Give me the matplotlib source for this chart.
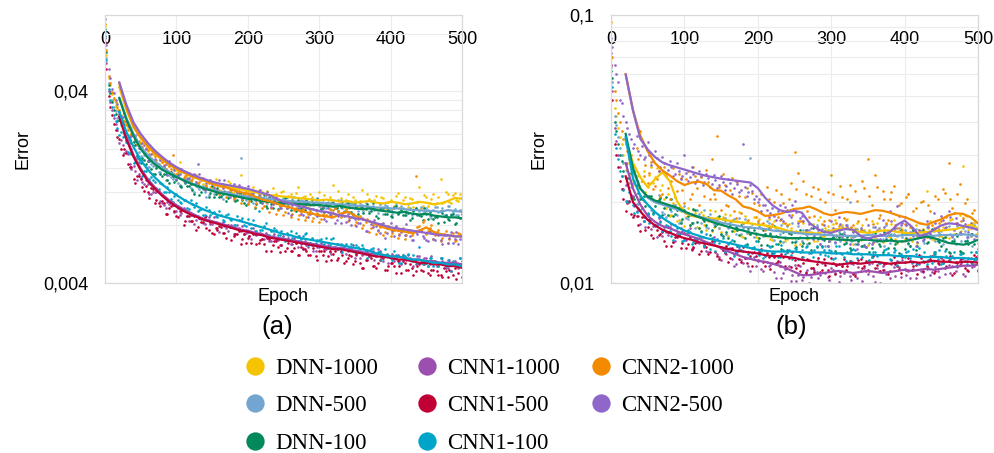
import matplotlib
matplotlib.use("Agg")
import matplotlib.pyplot as plt
from matplotlib.lines import Line2D
from matplotlib.ticker import FixedLocator, FixedFormatter, NullFormatter
import numpy as np

plt.rcParams["font.family"] = ["Liberation Sans", "DejaVu Sans"]

# values are stored in units of 1e-4 (error)
SCALE = 1e-4
DOT_EPOCHS = list(range(0, 501, 5))
DOT_EPOCHS2 = list(range(2, 500, 5))
LINE_EPOCHS = list(range(20, 501, 10))

SERIES = ["DNN-1000", "DNN-500", "DNN-100", "CNN1-1000", "CNN1-500", "CNN1-100", "CNN2-1000", "CNN2-500"]
COLORS = ["#F5C400", "#72A6D0", "#00895A", "#9C4FAF", "#C00035", "#00A4C8", "#F38A00", "#8F66CA"]

# ---------------- panel (a) ----------------
a_dnn1000_line = [420, 320, 260, 228, 205, 188, 176, 166, 158, 151,
                  145, 140, 136, 132, 129, 127, 125, 123, 121, 119,
                  117, 115, 114, 113, 112, 111, 110, 109, 108, 109,
                  108, 106, 107, 105, 106, 107, 105, 104, 106, 105,
                  103, 104, 106, 105, 103, 104, 107, 111, 110]
a_dnn1000_dots = [880, 470, 385, 340, 305, 282, 268, 238, 236, 210,
                  212, 190, 195, 176, 183, 166, 172, 158, 163, 150,
                  156, 171, 141, 147, 136, 143, 131, 139, 128, 135,
                  124, 140, 122, 131, 119, 133, 119, 127, 146, 116,
                  124, 113, 111, 122, 120, 109, 108, 125, 117, 107,
                  121, 104, 116, 105, 126, 103, 114, 102, 113, 104,
                  119, 101, 103, 112, 130, 102, 111, 100, 117, 104,
                  109, 99, 122, 101, 110, 98, 114, 103, 111, 97,
                  109, 101, 118, 98, 112, 100, 110, 98, 127, 101,
                  113, 104, 117, 105, 139, 106, 116, 105, 118, 107,
                  113]
a_dnn1000_dots2 = [620, 430, 360, 322, 300, 268, 258, 236, 222, 218,
                   198, 200, 184, 188, 170, 175, 160, 168, 152, 160,
                   148, 152, 144, 141, 145, 134, 140, 131, 137, 126,
                   133, 124, 130, 121, 136, 119, 128, 117, 125, 115,
                   120, 126, 112, 118, 110, 121, 109, 115, 107, 119,
                   106, 114, 104, 118, 103, 112, 100, 116, 102, 110,
                   100, 115, 103, 109, 99, 121, 101, 108, 98, 113,
                   100, 107, 97, 116, 100, 108, 98, 112, 99, 106,
                   97, 114, 99, 108, 97, 111, 100, 106, 98, 115,
                   101, 110, 103, 113, 104, 120, 106, 115, 108, 116]
a_dnn500_line = [370, 290, 240, 205, 186, 172, 161, 152, 144, 138,
                 133, 129, 125, 122, 120, 118, 116, 114, 113, 112,
                 111, 110, 109, 108, 107, 106, 106, 105, 105, 104,
                 103, 103, 102, 101, 101, 100, 99, 99, 98, 98,
                 97, 96, 96, 95, 95, 94, 96, 95, 94]
a_dnn500_dots = [820, 440, 360, 315, 295, 278, 232, 222, 220, 186,
                 183, 185, 161, 167, 170, 152, 158, 137, 146, 140,
                 145, 130, 136, 141, 125, 120, 126, 127, 120, 115,
                 128, 116, 120, 110, 120, 116, 109, 119, 180, 115,
                 104, 116, 109, 114, 105, 117, 109, 105, 110, 101,
                 111, 107, 103, 113, 102, 108, 104, 98, 110, 106,
                 101, 109, 98, 103, 106, 100, 109, 95, 102, 105,
                 99, 95, 102, 105, 95, 101, 98, 103, 92, 101,
                 96, 98, 93, 101, 94, 103, 91, 97, 95, 92,
                 99, 89, 96, 100, 95, 91, 101, 92, 97, 91,
                 96]
a_dnn500_dots2 = [600, 400, 330, 290, 266, 258, 229, 199, 210, 193,
                  176, 185, 161, 163, 163, 151, 161, 138, 143, 143,
                  133, 128, 135, 138, 123, 128, 123, 128, 113, 124,
                  117, 119, 112, 121, 112, 122, 108, 115, 112, 108,
                  115, 105, 113, 115, 108, 105, 115, 106, 110, 104,
                  109, 102, 113, 105, 99, 107, 110, 102, 104, 111,
                  98, 101, 106, 96, 103, 108, 99, 105, 94, 103,
                  99, 105, 95, 101, 107, 96, 93, 99, 102, 96,
                  92, 103, 94, 98, 90, 99, 96, 91, 100, 94,
                  96, 87, 100, 94, 98, 90, 101, 94, 91, 96]
a_dnn100_line = [368, 285, 234, 200, 180, 166, 156, 149, 143, 137,
                 132, 128, 124, 121, 118, 116, 114, 112, 110, 109,
                 107, 106, 105, 104, 104, 103, 103, 102, 102, 101,
                 100, 101, 99, 98, 97, 98, 96, 95, 94, 93,
                 94, 92, 91, 92, 90, 89, 88, 88, 87]
a_dnn100_dots = [850, 430, 350, 305, 283, 274, 223, 223, 218, 183,
                 169, 175, 173, 158, 148, 163, 145, 149, 133, 145,
                 138, 128, 140, 129, 131, 116, 131, 120, 125, 113,
                 128, 117, 112, 117, 107, 118, 113, 108, 118, 104,
                 112, 107, 99, 112, 108, 101, 112, 98, 104, 108,
                 102, 113, 96, 104, 108, 99, 96, 105, 109, 96,
                 103, 99, 105, 93, 105, 98, 100, 94, 104, 94,
                 105, 92, 100, 97, 93, 104, 89, 97, 99, 92,
                 89, 100, 92, 96, 90, 93, 87, 98, 91, 85,
                 92, 94, 86, 88, 95, 83, 86, 90, 81, 88,
                 92]
a_dnn100_dots2 = [640, 390, 320, 280, 287, 243, 215, 216, 210, 177,
                  180, 168, 173, 148, 160, 148, 149, 138, 151, 135,
                  147, 126, 133, 129, 122, 131, 115, 125, 126, 118,
                  113, 125, 114, 119, 111, 116, 107, 119, 109, 102,
                  110, 114, 103, 106, 115, 99, 103, 108, 97, 105,
                  111, 100, 108, 95, 105, 101, 108, 97, 104, 110,
                  97, 94, 101, 105, 98, 95, 106, 95, 100, 90,
                  100, 98, 93, 103, 95, 98, 87, 99, 92, 96,
                  88, 101, 94, 90, 94, 85, 95, 92, 89, 98,
                  86, 91, 88, 82, 93, 90, 85, 92, 82, 87]
a_cnn1_1000_line = [300, 230, 186, 158, 139, 126, 116, 108, 102, 97,
                    93, 89, 86, 84, 82, 80, 78, 76, 75, 73,
                    72, 70, 69, 68, 67, 66, 65, 64, 63, 62,
                    61, 61, 60, 59, 58, 57, 57, 56, 55, 55,
                    54, 53, 53, 52, 52, 51, 51, 51, 50]
a_cnn1_1000_dots = [760, 400, 320, 270, 215, 210, 196, 168, 164, 137,
                    141, 131, 132, 116, 119, 121, 105, 99, 103, 103,
                    95, 90, 99, 89, 90, 81, 89, 86, 81, 88,
                    81, 83, 74, 83, 77, 79, 72, 80, 75, 72,
                    74, 68, 75, 72, 68, 73, 66, 70, 67, 63,
                    70, 67, 64, 69, 62, 64, 66, 62, 68, 59,
                    62, 63, 60, 58, 62, 64, 58, 60, 59, 61,
                    54, 59, 56, 57, 55, 59, 55, 59, 52, 56,
                    55, 52, 56, 50, 54, 56, 53, 50, 55, 51,
                    54, 50, 52, 49, 54, 51, 48, 51, 52, 48,
                    50]
a_cnn1_1000_dots2 = [560, 350, 290, 250, 222, 191, 189, 157, 153, 149,
                     134, 138, 117, 120, 119, 107, 102, 106, 107, 94,
                     98, 93, 96, 84, 91, 85, 87, 82, 89, 81,
                     88, 77, 81, 79, 75, 80, 72, 77, 79, 73,
                     70, 77, 71, 73, 68, 71, 66, 72, 67, 63,
                     68, 69, 64, 65, 70, 61, 63, 65, 59, 62,
                     65, 60, 63, 57, 62, 60, 63, 57, 60, 63,
                     56, 54, 57, 59, 56, 53, 60, 54, 56, 51,
                     57, 54, 52, 56, 53, 54, 49, 55, 51, 54,
                     49, 55, 51, 49, 52, 48, 53, 51, 49, 54]
a_cnn1_500_line = [294, 225, 182, 155, 136, 124, 114, 106, 100, 95,
                   91, 88, 85, 83, 81, 79, 77, 75, 74, 72,
                   71, 69, 68, 67, 66, 65, 64, 63, 62, 61,
                   60, 60, 59, 58, 57, 56, 55, 55, 54, 53,
                   53, 52, 51, 51, 50, 50, 49, 49, 48]
a_cnn1_500_dots = [720, 380, 300, 250, 225, 186, 191, 161, 140, 144,
                   140, 121, 120, 125, 104, 105, 107, 92, 98, 102,
                   89, 95, 80, 89, 84, 89, 78, 83, 88, 76,
                   73, 77, 79, 73, 69, 78, 70, 72, 64, 72,
                   69, 65, 72, 65, 68, 59, 68, 63, 66, 58,
                   68, 61, 59, 61, 56, 62, 60, 56, 63, 55,
                   59, 56, 52, 59, 57, 53, 59, 51, 54, 55,
                   52, 58, 48, 53, 55, 49, 48, 53, 54, 47,
                   51, 49, 52, 45, 51, 47, 48, 46, 50, 46,
                   51, 44, 47, 46, 44, 48, 43, 46, 48, 45,
                   43]
a_cnn1_500_dots2 = [520, 330, 270, 232, 199, 200, 168, 162, 133, 145,
                    126, 128, 111, 123, 109, 101, 104, 92, 101, 95,
                    88, 96, 84, 89, 84, 76, 87, 83, 77, 83,
                    72, 76, 78, 73, 80, 67, 72, 75, 68, 65,
                    70, 72, 64, 67, 64, 69, 59, 66, 62, 63,
                    59, 65, 59, 65, 56, 60, 59, 56, 61, 53,
                    59, 59, 55, 53, 59, 54, 56, 52, 56, 50,
                    57, 51, 48, 53, 54, 49, 51, 55, 47, 49,
                    51, 45, 49, 52, 47, 50, 44, 49, 47, 50,
                    45, 47, 51, 44, 43, 46, 47, 44, 42, 49]
a_cnn1_100_line = [313, 245, 205, 175, 156, 142, 131, 122, 115, 109,
                   104, 100, 96, 93, 90, 88, 86, 84, 82, 80,
                   78, 76, 74, 72, 71, 69, 68, 67, 66, 65,
                   64, 63, 62, 61, 60, 59, 57, 56, 55, 55,
                   54, 53, 53, 52, 51, 51, 50, 50, 49]
a_cnn1_100_dots = [780, 410, 330, 280, 236, 231, 217, 191, 170, 179,
                   155, 154, 136, 143, 135, 123, 131, 119, 120, 106,
                   116, 106, 109, 99, 109, 100, 95, 97, 90, 96,
                   93, 89, 95, 85, 90, 86, 80, 89, 85, 80,
                   86, 77, 80, 95, 76, 82, 71, 75, 76, 71,
                   69, 73, 75, 67, 70, 68, 72, 63, 69, 65,
                   67, 63, 69, 63, 69, 60, 64, 62, 60, 64,
                   58, 62, 63, 59, 56, 61, 56, 58, 55, 57,
                   54, 59, 55, 51, 55, 57, 52, 53, 62, 50,
                   51, 54, 49, 51, 54, 50, 53, 46, 51, 50,
                   52]
a_cnn1_100_dots2 = [580, 360, 300, 258, 245, 233, 193, 189, 172, 171,
                    145, 153, 140, 137, 125, 133, 120, 127, 110, 114,
                    109, 104, 109, 97, 103, 104, 96, 91, 100, 90,
                    94, 88, 91, 84, 92, 85, 80, 85, 87, 79,
                    81, 85, 75, 76, 79, 71, 75, 77, 71, 75,
                    66, 71, 69, 73, 66, 70, 73, 65, 63, 67,
                    68, 64, 61, 68, 62, 64, 58, 64, 62, 59,
                    63, 60, 61, 54, 60, 56, 58, 53, 60, 56,
                    53, 56, 51, 56, 54, 53, 56, 51, 53, 52,
                    49, 54, 52, 49, 54, 49, 50, 52, 49, 54]
a_cnn2_1000_line = [440, 330, 262, 230, 207, 190, 177, 166, 158, 151,
                    145, 141, 137, 132, 128, 126, 122, 119, 117, 113,
                    109, 107, 104, 101, 99, 96, 94, 92, 90, 89,
                    88, 92, 94, 90, 86, 84, 81, 78, 76, 75,
                    74, 73, 75, 78, 74, 72, 71, 70, 70]
a_cnn2_1000_dots = [900, 480, 395, 350, 318, 280, 270, 238, 236, 212,
                    214, 192, 197, 178, 184, 168, 172, 158, 163, 185,
                    148, 155, 141, 148, 136, 145, 132, 139, 126, 133,
                    122, 131, 116, 128, 112, 122, 110, 120, 105, 116,
                    103, 112, 100, 108, 98, 106, 94, 103, 92, 101,
                    90, 98, 88, 96, 86, 94, 85, 92, 84, 91,
                    83, 92, 90, 97, 96, 101, 88, 94, 84, 88,
                    80, 86, 77, 83, 74, 80, 72, 78, 71, 77,
                    70, 76, 69, 75, 68, 74, 71, 144, 79, 83,
                    72, 77, 68, 74, 66, 72, 65, 71, 66, 73,
                    68]
a_cnn2_1000_dots2 = [660, 440, 370, 330, 290, 276, 252, 242, 226, 220,
                     204, 202, 188, 190, 176, 178, 166, 170, 158, 160,
                     152, 154, 145, 150, 140, 147, 135, 142, 130, 137,
                     126, 133, 121, 130, 117, 127, 113, 124, 110, 121,
                     107, 115, 104, 112, 101, 110, 99, 107, 96, 104,
                     94, 101, 92, 99, 90, 97, 88, 95, 87, 93,
                     86, 89, 94, 90, 99, 95, 91, 97, 87, 92,
                     83, 89, 80, 86, 77, 83, 75, 81, 74, 79,
                     73, 78, 72, 77, 71, 76, 73, 78, 76, 85,
                     75, 80, 71, 76, 69, 75, 68, 73, 67, 72]
a_cnn2_500_line = [445, 340, 275, 240, 215, 196, 182, 170, 161, 154,
                   148, 143, 139, 135, 132, 130, 128, 126, 124, 121,
                   118, 115, 110, 106, 104, 101, 99, 97, 95, 94,
                   92, 90, 89, 87, 86, 84, 82, 80, 78, 77,
                   76, 75, 74, 73, 72, 71, 71, 70, 70]
a_cnn2_500_dots = [950, 520, 410, 360, 313, 293, 281, 232, 238, 239,
                   204, 211, 174, 189, 177, 183, 158, 167, 174, 148,
                   140, 149, 152, 139, 132, 149, 168, 137, 122, 136,
                   131, 122, 137, 125, 129, 113, 131, 120, 126, 112,
                   129, 117, 111, 116, 105, 115, 109, 103, 112, 98,
                   105, 99, 91, 104, 99, 92, 102, 88, 93, 96,
                   90, 100, 84, 90, 93, 85, 82, 89, 92, 80,
                   86, 82, 87, 75, 84, 78, 79, 73, 82, 73,
                   82, 70, 76, 74, 71, 76, 67, 74, 76, 70,
                   67, 75, 68, 72, 67, 71, 65, 74, 68, 64,
                   70]
a_cnn2_500_dots2 = [700, 470, 390, 345, 299, 310, 263, 235, 235, 202,
                    216, 199, 183, 197, 166, 175, 163, 147, 165, 156,
                    144, 158, 135, 141, 145, 134, 148, 124, 133, 137,
                    125, 121, 131, 137, 119, 127, 122, 130, 111, 124,
                    115, 118, 109, 122, 108, 119, 100, 107, 104, 98,
                    106, 93, 102, 104, 96, 91, 103, 92, 97, 89,
                    95, 86, 98, 88, 82, 89, 93, 83, 85, 92,
                    79, 82, 86, 75, 81, 85, 76, 81, 69, 77,
                    75, 79, 71, 76, 81, 70, 67, 72, 75, 69,
                    66, 75, 67, 71, 64, 71, 69, 65, 74, 68]

# ---------------- panel (b) ----------------
b_dnn1000_line = [340, 280, 248, 228, 244, 259, 240, 202, 183, 178,
                  176, 175, 174, 173, 171, 169, 168, 167, 165, 164,
                  162, 160, 157, 155, 154, 154, 153, 155, 157, 159,
                  160, 157, 155, 154, 155, 157, 157, 155, 154, 153,
                  154, 155, 156, 157, 158, 159, 162, 165, 160]
b_dnn1000_dots = [690, 450, 380, 330, 265, 255, 232, 250, 210, 262,
                  228, 270, 248, 205, 232, 190, 178, 198, 170, 186,
                  163, 190, 168, 182, 160, 179, 158, 188, 162, 176,
                  155, 181, 150, 172, 158, 184, 149, 170, 153, 177,
                  147, 166, 150, 173, 145, 162, 142, 168, 146, 160,
                  139, 171, 144, 158, 141, 166, 143, 176, 150, 163,
                  146, 172, 149, 165, 143, 160, 140, 168, 145, 158,
                  139, 170, 147, 161, 142, 166, 149, 172, 141, 160,
                  146, 214, 143, 164, 148, 159, 220, 170, 145, 161,
                  150, 168, 147, 174, 152, 180, 274, 178, 150, 168,
                  152]
b_dnn1000_dots2 = [560, 420, 350, 300, 280, 242, 262, 226, 240, 218,
                   252, 236, 268, 222, 205, 215, 180, 195, 172, 190,
                   176, 165, 188, 162, 184, 165, 170, 156, 186, 160,
                   176, 152, 180, 156, 170, 150, 178, 154, 166, 148,
                   174, 151, 163, 146, 170, 148, 158, 143, 166, 147,
                   156, 140, 168, 146, 155, 143, 172, 148, 160, 144,
                   166, 151, 158, 145, 174, 149, 160, 143, 165, 147,
                   158, 141, 168, 145, 158, 150, 166, 146, 156, 143,
                   164, 147, 158, 141, 167, 149, 160, 146, 170, 150,
                   162, 148, 172, 152, 165, 156, 180, 158, 168, 153]
b_dnn500_line = [345, 262, 225, 208, 200, 196, 192, 188, 184, 180,
                 177, 174, 171, 168, 166, 164, 162, 161, 160, 159,
                 157, 156, 155, 154, 153, 152, 152, 151, 151, 150,
                 150, 150, 150, 151, 150, 150, 150, 150, 151, 151,
                 150, 150, 150, 151, 151, 151, 152, 151, 150]
b_dnn500_dots = [640, 420, 350, 300, 280, 236, 236, 197, 212, 202,
                 212, 188, 202, 213, 184, 177, 190, 195, 180, 171,
                 194, 173, 181, 161, 181, 174, 162, 181, 166, 172,
                 151, 175, 161, 170, 152, 175, 161, 154, 292, 148,
                 167, 160, 152, 168, 148, 160, 153, 142, 163, 156,
                 147, 163, 143, 152, 158, 148, 165, 140, 153, 158,
                 146, 141, 155, 162, 143, 201, 149, 159, 138, 156,
                 147, 152, 143, 161, 146, 164, 141, 153, 150, 144,
                 158, 140, 155, 159, 149, 143, 162, 147, 156, 146,
                 156, 143, 163, 149, 140, 154, 160, 145, 150, 164,
                 141]
b_dnn500_dots2 = [560, 390, 320, 280, 262, 229, 241, 197, 208, 212,
                  193, 185, 201, 208, 181, 193, 185, 196, 168, 188,
                  175, 180, 167, 187, 168, 187, 160, 172, 168, 160,
                  174, 153, 169, 173, 160, 153, 174, 157, 166, 154,
                  163, 150, 170, 154, 145, 158, 164, 148, 154, 167,
                  144, 149, 158, 140, 154, 162, 146, 159, 137, 153,
                  149, 159, 143, 155, 165, 144, 140, 152, 158, 147,
                  141, 162, 146, 153, 138, 156, 152, 143, 161, 149,
                  155, 137, 159, 147, 156, 141, 164, 150, 144, 154,
                  140, 159, 153, 146, 163, 143, 156, 149, 138, 159]
b_dnn100_line = [360, 268, 225, 210, 203, 199, 195, 191, 185, 180,
                 176, 172, 168, 165, 162, 159, 157, 154, 152, 150,
                 149, 148, 147, 147, 147, 147, 147, 146, 146, 145,
                 145, 144, 145, 145, 144, 143, 144, 143, 143, 145,
                 147, 149, 147, 144, 141, 140, 139, 141, 145]
b_dnn100_dots = [620, 400, 330, 285, 277, 246, 210, 233, 206, 211,
                 181, 212, 193, 204, 180, 210, 189, 178, 187, 167,
                 188, 178, 168, 188, 161, 174, 164, 151, 174, 166,
                 153, 172, 147, 156, 162, 151, 168, 140, 152, 158,
                 144, 139, 152, 161, 138, 150, 144, 155, 133, 152,
                 142, 147, 137, 157, 141, 160, 136, 149, 145, 138,
                 152, 132, 148, 153, 141, 135, 156, 140, 150, 139,
                 147, 135, 154, 140, 131, 146, 151, 135, 142, 157,
                 134, 141, 152, 133, 149, 158, 141, 153, 128, 144,
                 138, 148, 131, 143, 153, 132, 129, 143, 152, 140,
                 134]
b_dnn100_dots2 = [580, 370, 300, 262, 246, 257, 205, 217, 206, 194,
                  211, 183, 203, 207, 190, 180, 205, 181, 190, 174,
                  183, 165, 189, 169, 156, 171, 177, 157, 163, 178,
                  150, 155, 164, 143, 157, 165, 147, 160, 135, 153,
                  147, 158, 139, 152, 163, 140, 134, 147, 154, 142,
                  136, 158, 141, 149, 133, 152, 147, 137, 156, 143,
                  148, 129, 153, 140, 149, 133, 158, 144, 137, 147,
                  131, 150, 143, 137, 155, 135, 146, 140, 129, 152,
                  147, 138, 157, 137, 148, 153, 142, 159, 131, 142,
                  147, 134, 129, 143, 150, 131, 143, 140, 153, 131]
b_cnn1_1000_line = [280, 225, 196, 178, 169, 163, 160, 156, 152, 149,
                    146, 142, 139, 135, 131, 128, 125, 123, 121, 120,
                    118, 116, 113, 110, 107, 107, 108, 109, 110, 111,
                    110, 109, 110, 111, 110, 109, 110, 111, 112, 111,
                    112, 113, 112, 113, 114, 115, 116, 116, 117]
b_cnn1_1000_dots = [720, 380, 300, 250, 232, 200, 212, 185, 166, 176,
                    179, 159, 163, 175, 150, 155, 162, 142, 154, 160,
                    145, 154, 133, 147, 141, 148, 132, 141, 149, 128,
                    122, 130, 134, 123, 118, 134, 119, 124, 111, 125,
                    121, 113, 126, 116, 119, 104, 120, 109, 114, 102,
                    117, 107, 103, 110, 100, 114, 110, 107, 119, 105,
                    114, 109, 101, 116, 111, 106, 118, 104, 111, 114,
                    108, 119, 101, 111, 116, 108, 104, 115, 121, 105,
                    113, 111, 119, 104, 118, 110, 113, 107, 121, 111,
                    124, 108, 117, 116, 111, 122, 108, 121, 124, 116,
                    111]
b_cnn1_1000_dots2 = [520, 340, 270, 225, 203, 213, 194, 178, 190, 162,
                     173, 163, 149, 171, 162, 151, 166, 144, 151, 156,
                     145, 160, 135, 144, 148, 136, 130, 140, 145, 125,
                     133, 128, 135, 116, 130, 122, 124, 116, 129, 116,
                     130, 111, 120, 117, 110, 120, 104, 113, 116, 107,
                     102, 116, 105, 112, 105, 112, 104, 119, 109, 103,
                     112, 117, 106, 109, 119, 103, 108, 115, 102, 111,
                     118, 106, 114, 100, 112, 110, 118, 106, 115, 122,
                     107, 104, 113, 119, 111, 105, 121, 110, 115, 105,
                     119, 116, 109, 124, 115, 119, 106, 124, 115, 122]
b_cnn1_500_line = [250, 200, 185, 172, 164, 158, 154, 150, 147, 145,
                   142, 140, 138, 136, 134, 132, 131, 130, 129, 127,
                   126, 126, 125, 124, 122, 121, 120, 119, 118, 117,
                   118, 119, 118, 119, 120, 119, 118, 119, 119, 120,
                   119, 120, 121, 120, 120, 119, 120, 120, 119]
b_cnn1_500_dots = [650, 330, 270, 225, 185, 202, 176, 178, 156, 171,
                   162, 151, 165, 151, 155, 137, 155, 142, 149, 135,
                   154, 140, 134, 141, 128, 142, 136, 131, 143, 126,
                   135, 129, 120, 135, 131, 123, 136, 119, 126, 130,
                   122, 134, 116, 125, 129, 119, 116, 125, 130, 115,
                   122, 117, 125, 109, 122, 114, 118, 110, 123, 112,
                   124, 108, 118, 116, 112, 121, 108, 119, 123, 116,
                   112, 125, 114, 120, 112, 119, 111, 125, 116, 109,
                   120, 124, 112, 117, 127, 111, 116, 123, 109, 119,
                   125, 114, 122, 107, 120, 117, 124, 112, 120, 127,
                   112]
b_cnn1_500_dots2 = [480, 300, 240, 205, 199, 181, 179, 164, 177, 158,
                    172, 147, 157, 152, 144, 155, 137, 148, 151, 141,
                    135, 149, 136, 142, 132, 139, 128, 143, 131, 123,
                    133, 137, 124, 128, 138, 120, 124, 131, 116, 126,
                    131, 120, 129, 113, 125, 121, 128, 116, 124, 131,
                    114, 111, 119, 123, 114, 110, 124, 112, 117, 106,
                    119, 117, 110, 123, 116, 119, 106, 122, 114, 121,
                    111, 126, 117, 111, 118, 108, 122, 118, 113, 125,
                    112, 121, 116, 108, 124, 120, 114, 126, 111, 118,
                    122, 115, 126, 109, 119, 123, 114, 111, 120, 125]
b_cnn1_100_line = [350, 245, 212, 196, 184, 175, 168, 162, 157, 153,
                   150, 147, 145, 143, 141, 139, 137, 135, 133, 132,
                   131, 131, 131, 131, 130, 130, 130, 130, 129, 129,
                   129, 128, 128, 128, 127, 127, 127, 126, 126, 126,
                   125, 125, 125, 125, 124, 124, 124, 123, 123]
b_cnn1_100_dots = [700, 360, 290, 250, 202, 219, 196, 184, 187, 170,
                   182, 173, 164, 176, 156, 164, 156, 145, 160, 154,
                   145, 157, 140, 146, 150, 142, 153, 134, 142, 146,
                   136, 131, 140, 145, 130, 136, 132, 139, 124, 136,
                   129, 132, 126, 138, 128, 140, 125, 133, 131, 127,
                   135, 123, 133, 136, 129, 125, 138, 128, 133, 126,
                   132, 124, 137, 128, 121, 130, 134, 124, 128, 137,
                   121, 125, 131, 119, 128, 134, 123, 131, 117, 128,
                   125, 132, 120, 128, 135, 121, 118, 126, 130, 123,
                   118, 132, 121, 126, 116, 128, 124, 118, 130, 122,
                   127]
b_cnn1_100_dots2 = [540, 320, 262, 222, 201, 208, 182, 191, 191, 177,
                    167, 181, 164, 169, 157, 163, 150, 164, 152, 143,
                    152, 155, 142, 146, 155, 137, 141, 147, 132, 141,
                    147, 135, 142, 126, 137, 133, 139, 128, 135, 143,
                    127, 124, 132, 136, 129, 125, 139, 128, 133, 123,
                    134, 131, 125, 137, 129, 133, 121, 136, 127, 133,
                    123, 138, 129, 125, 130, 121, 133, 129, 125, 136,
                    122, 130, 126, 119, 133, 129, 122, 133, 120, 126,
                    130, 124, 134, 118, 126, 130, 122, 119, 128, 133,
                    119, 126, 123, 130, 116, 128, 121, 124, 118, 130]
b_cnn2_1000_line = [600, 440, 355, 310, 280, 263, 252, 240, 232, 237,
                    239, 234, 222, 221, 212, 205, 193, 190, 185, 178,
                    179, 181, 185, 189, 190, 193, 188, 182, 179, 182,
                    184, 183, 181, 184, 187, 186, 183, 179, 176, 172,
                    167, 165, 169, 173, 179, 182, 181, 176, 167]
b_cnn2_1000_dots = [940, 520, 430, 370, 330, 290, 272, 320, 370, 250,
                    236, 282, 230, 262, 214, 250, 205, 268, 220, 246,
                    198, 262, 215, 250, 196, 236, 265, 205, 214, 354,
                    188, 232, 194, 246, 175, 212, 168, 226, 162, 198,
                    170, 214, 158, 205, 166, 222, 172, 198, 165, 236,
                    307, 257, 170, 215, 176, 228, 160, 205, 170, 218,
                    253, 188, 163, 210, 172, 232, 165, 203, 158, 226,
                    290, 196, 253, 175, 220, 168, 205, 230, 160, 198,
                    166, 215, 152, 190, 158, 202, 148, 185, 160, 205,
                    170, 216, 280, 190, 168, 235, 175, 206, 160, 188,
                    155]
b_cnn2_1000_dots2 = [700, 480, 400, 345, 310, 300, 262, 290, 240, 276,
                     258, 224, 245, 212, 272, 226, 240, 210, 256, 222,
                     244, 205, 270, 226, 248, 212, 238, 290, 206, 228,
                     255, 196, 222, 186, 238, 182, 210, 172, 216, 176,
                     196, 168, 228, 160, 200, 176, 215, 168, 205, 180,
                     224, 170, 240, 185, 212, 178, 225, 166, 200, 172,
                     215, 168, 230, 175, 205, 162, 220, 170, 240, 174,
                     212, 166, 228, 180, 205, 172, 218, 165, 196, 158,
                     210, 162, 185, 150, 200, 156, 195, 164, 212, 168,
                     225, 176, 206, 182, 215, 170, 198, 162, 182, 150]
b_cnn2_500_line = [600, 440, 345, 315, 295, 282, 275, 270, 265, 260,
                   255, 251, 248, 245, 243, 241, 239, 237, 226, 208,
                   195, 187, 184, 186, 183, 168, 160, 155, 154, 157,
                   159, 158, 150, 146, 149, 151, 155, 165, 171, 162,
                   150, 152, 158, 164, 167, 166, 163, 161, 158]
b_cnn2_500_dots = [820, 650, 560, 470, 400, 360, 320, 355, 300, 290,
                   335, 275, 310, 262, 296, 258, 285, 250, 280, 244,
                   300, 240, 270, 236, 262, 232, 256, 228, 252, 226,
                   250, 222, 244, 215, 240, 218, 330, 212, 232, 205,
                   200, 185, 195, 176, 190, 172, 196, 170, 188, 176,
                   202, 168, 178, 152, 166, 146, 162, 140, 164, 138,
                   170, 142, 176, 148, 165, 140, 155, 134, 160, 138,
                   165, 140, 162, 145, 172, 150, 185, 158, 194, 165,
                   176, 146, 160, 138, 158, 145, 170, 152, 182, 156,
                   178, 160, 186, 150, 175, 155, 172, 149, 168, 146,
                   160]
b_cnn2_500_dots2 = [760, 600, 480, 420, 380, 345, 330, 310, 325, 295,
                    300, 285, 292, 270, 280, 265, 272, 256, 262, 250,
                    258, 248, 255, 242, 250, 238, 246, 234, 242, 232,
                    238, 230, 236, 226, 234, 222, 228, 218, 220, 212,
                    205, 196, 188, 182, 178, 186, 174, 192, 180, 196,
                    184, 175, 170, 158, 160, 150, 158, 146, 156, 144,
                    160, 150, 166, 152, 162, 146, 150, 140, 148, 136,
                    155, 142, 158, 146, 162, 154, 170, 160, 178, 168,
                    165, 155, 150, 142, 150, 146, 162, 150, 168, 158,
                    172, 162, 176, 158, 168, 152, 166, 155, 162, 150]

PANEL_A_DOTS = [a_dnn1000_dots, a_dnn500_dots, a_dnn100_dots, a_cnn1_1000_dots,
                a_cnn1_500_dots, a_cnn1_100_dots, a_cnn2_1000_dots, a_cnn2_500_dots]
PANEL_A_DOTS2 = [a_dnn1000_dots2, a_dnn500_dots2, a_dnn100_dots2, a_cnn1_1000_dots2,
                 a_cnn1_500_dots2, a_cnn1_100_dots2, a_cnn2_1000_dots2, a_cnn2_500_dots2]
PANEL_A_LINES = [a_dnn1000_line, a_dnn500_line, a_dnn100_line, a_cnn1_1000_line,
                 a_cnn1_500_line, a_cnn1_100_line, a_cnn2_1000_line, a_cnn2_500_line]
PANEL_B_DOTS = [b_dnn1000_dots, b_dnn500_dots, b_dnn100_dots, b_cnn1_1000_dots,
                b_cnn1_500_dots, b_cnn1_100_dots, b_cnn2_1000_dots, b_cnn2_500_dots]
PANEL_B_DOTS2 = [b_dnn1000_dots2, b_dnn500_dots2, b_dnn100_dots2, b_cnn1_1000_dots2,
                 b_cnn1_500_dots2, b_cnn1_100_dots2, b_cnn2_1000_dots2, b_cnn2_500_dots2]
PANEL_B_LINES = [b_dnn1000_line, b_dnn500_line, b_dnn100_line, b_cnn1_1000_line,
                 b_cnn1_500_line, b_cnn1_100_line, b_cnn2_1000_line, b_cnn2_500_line]

X_TICKS = [0, 100, 200, 300, 400, 500]
A_YTICKS = [0.004, 0.04]
A_YLABELS = ["0,004", "0,04"]
B_YTICKS = [0.01, 0.1]
B_YLABELS = ["0,01", "0,1"]

W, H = 995, 453
fig = plt.figure(figsize=(W / 100, H / 100), dpi=100)
ax_a = fig.add_axes([105 / W, (H - 283) / H, 357 / W, 268 / H])
ax_b = fig.add_axes([611 / W, (H - 283) / H, 367 / W, 268 / H])

GRID = "#ececec"
SPINE = "#d8d8d8"
FS = 13


def draw_panel(ax, dots_list, dots2_list, lines_list, ylim, yticks, ylabels, yminor, ylabel_x):
    for dots, dots2, col in zip(dots_list, dots2_list, COLORS):
        ax.plot(DOT_EPOCHS, np.array(dots) * SCALE, "o", ms=1.9, color=col,
                mec="none", zorder=2)
        ax.plot(DOT_EPOCHS2, np.array(dots2) * SCALE, "o", ms=1.9, color=col,
                mec="none", zorder=2)
    for line, col in zip(lines_list, COLORS):
        ax.plot(LINE_EPOCHS, np.array(line) * SCALE, "-", lw=1.6, color=col,
                zorder=3, solid_joinstyle="round")
    ax.set_yscale("log")
    ax.set_xlim(0, 500)
    ax.set_ylim(*ylim)
    ax.yaxis.set_major_locator(FixedLocator(yticks))
    ax.yaxis.set_major_formatter(FixedFormatter(ylabels))
    ax.yaxis.set_minor_locator(FixedLocator(yminor))
    ax.yaxis.set_minor_formatter(NullFormatter())
    ax.set_xticks(X_TICKS)
    ax.xaxis.set_ticks_position("top")
    ax.xaxis.set_label_position("bottom")
    ax.tick_params(axis="x", which="both", length=0, pad=-24, labelsize=FS)
    ax.tick_params(axis="y", which="both", length=0, pad=12, labelsize=FS)
    ax.grid(True, which="both", axis="y", color=GRID, lw=0.8, zorder=0)
    ax.grid(True, which="major", axis="x", color=GRID, lw=0.8, zorder=0)
    ax.set_axisbelow(True)
    for sp in ax.spines.values():
        sp.set_color(SPINE)
        sp.set_linewidth(0.9)
    ax.set_xlabel("Epoch", fontsize=FS, labelpad=3.4)
    ax.set_ylabel("Error", fontsize=FS)
    ax.yaxis.set_label_coords(ylabel_x, 0.5)


draw_panel(ax_a, PANEL_A_DOTS, PANEL_A_DOTS2, PANEL_A_LINES, (0.004, 0.1), A_YTICKS, A_YLABELS,
           [0.008, 0.012, 0.016, 0.02, 0.024, 0.028, 0.032, 0.036, 0.08], -0.207)
draw_panel(ax_b, PANEL_B_DOTS, PANEL_B_DOTS2, PANEL_B_LINES, (0.01, 0.1), B_YTICKS, B_YLABELS,
           [0.02, 0.03, 0.04, 0.05, 0.06, 0.07, 0.08, 0.09], -0.174)

fig.text(277.5 / W, 1 - 327 / H, "(a)", ha="center", va="center", fontsize=18.5)
fig.text(791.5 / W, 1 - 327 / H, "(b)", ha="center", va="center", fontsize=18.5)

# legend: three columns
LEG_FS = 16.5
columns = [[0, 1, 2], [3, 4, 5], [6, 7]]
col_x = [255, 427, 600.7]
fs_px = LEG_FS * 100 / 72
for idxs, cx in zip(columns, col_x):
    handles = [Line2D([], [], marker="o", ls="none", color=COLORS[i], mec="none",
                      markersize=13.2) for i in idxs]
    labels = [SERIES[i] for i in idxs]
    fig.legend(handles, labels, loc="upper left",
               bbox_to_anchor=((cx - 0.5 * fs_px) / W, 1 - 357.5 / H),
               frameon=False, borderpad=0, borderaxespad=0, handlelength=1.0,
               handletextpad=0.39, labelspacing=0.72,
               prop={"family": "Liberation Serif", "size": LEG_FS})

fig.savefig("out.png", dpi=100)
